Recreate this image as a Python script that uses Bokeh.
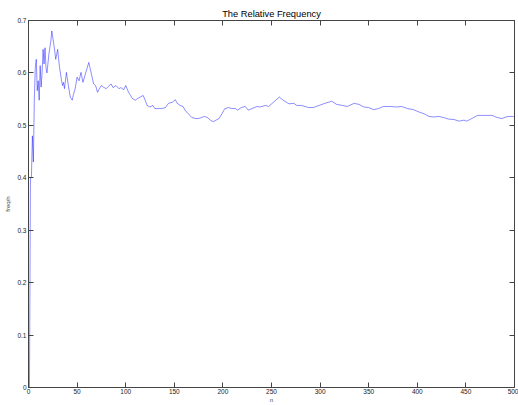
from bokeh.plotting import figure
from bokeh.models import Range1d, LinearAxis, FixedTicker
from bokeh.embed import file_html
from bokeh.resources import INLINE

# ---- data ----
n_vals = [1, 2, 3, 4, 5, 6, 7, 8, 9, 10, 11, 12, 13, 14, 15, 16, 17, 18, 19, 21,
          23, 24, 26, 27, 28, 30, 31, 32, 34, 35, 36, 37, 39, 41, 43, 45, 46, 48, 50, 52,
          54, 56, 59, 62, 64, 67, 69, 71, 73, 75, 77, 80, 82, 85, 87, 90, 93, 95, 98, 100,
          103, 105, 107, 110, 112, 115, 118, 120, 122, 125, 128, 130, 134, 137, 141, 144, 148, 151, 153, 156,
          159, 161, 165, 168, 172, 175, 178, 181, 184, 187, 190, 193, 196, 199, 202, 206, 209, 213, 215, 219,
          223, 226, 230, 235, 238, 244, 247, 252, 258, 262, 268, 273, 276, 281, 288, 293, 299, 305, 312, 317,
          323, 328, 335, 340, 345, 350, 355, 360, 365, 372, 379, 384, 390, 396, 401, 407, 412, 417, 422, 427,
          432, 438, 443, 448, 451, 456, 462, 467, 472, 477, 482, 487, 493, 498, 500]
rel_freq = [0.0, 0.40, 0.40, 0.48, 0.43, 0.55, 0.61, 0.626, 0.566, 0.585, 0.548, 0.614, 0.573, 0.601, 0.645, 0.617, 0.648, 0.61, 0.60, 0.636,
            0.661, 0.680, 0.655, 0.642, 0.626, 0.645, 0.626, 0.610, 0.585, 0.576, 0.582, 0.570, 0.601, 0.576, 0.554, 0.548, 0.557, 0.570, 0.592, 0.585,
            0.601, 0.582, 0.601, 0.620, 0.604, 0.579, 0.576, 0.563, 0.570, 0.576, 0.573, 0.570, 0.574, 0.579, 0.572, 0.576, 0.570, 0.572, 0.568, 0.576,
            0.563, 0.557, 0.551, 0.548, 0.551, 0.554, 0.557, 0.548, 0.538, 0.535, 0.538, 0.532, 0.532, 0.532, 0.534, 0.542, 0.544, 0.549, 0.542, 0.538,
            0.536, 0.529, 0.521, 0.515, 0.513, 0.513, 0.515, 0.517, 0.515, 0.510, 0.507, 0.510, 0.513, 0.522, 0.532, 0.534, 0.532, 0.532, 0.529, 0.534,
            0.536, 0.529, 0.532, 0.536, 0.535, 0.538, 0.536, 0.544, 0.554, 0.548, 0.541, 0.542, 0.538, 0.538, 0.534, 0.534, 0.538, 0.542, 0.546, 0.540,
            0.538, 0.536, 0.542, 0.540, 0.535, 0.534, 0.530, 0.532, 0.536, 0.536, 0.535, 0.536, 0.532, 0.530, 0.526, 0.522, 0.517, 0.516, 0.517, 0.515,
            0.512, 0.511, 0.508, 0.510, 0.508, 0.513, 0.519, 0.519, 0.519, 0.519, 0.515, 0.513, 0.517, 0.517, 0.516]

x_ticks = [0, 50, 100, 150, 200, 250, 300, 350, 400, 450, 500]
x_tick_labels = ["0", "50", "100", "150", "200", "250", "300", "350", "400", "450", "500"]
y_ticks = [0, 0.1, 0.2, 0.3, 0.4, 0.5, 0.6, 0.7]
y_tick_labels = ["0", "0.1", "0.2", "0.3", "0.4", "0.5", "0.6", "0.7"]

FONT = "Liberation Sans"
AXIS_COL = "#444444"

p = figure(width=518, height=405, output_backend="svg", toolbar_location=None,
           x_range=Range1d(0, 500), y_range=Range1d(0, 0.7),
           title="The Relative Frequency",
           min_border_left=28, min_border_right=4, min_border_top=20, min_border_bottom=15)
p.border_fill_color = "#ffffff"
p.background_fill_color = "#ffffff"

p.title.align = "center"
p.title.text_font = FONT
p.title.text_font_size = "9.3px"
p.title.text_font_style = "normal"
p.title.text_color = "#000000"
p.title.standoff = 3

p.line(n_vals, rel_freq, line_color="#0000ff", line_width=0.6, line_alpha=0.75)

p.xgrid.visible = False
p.ygrid.visible = False
p.outline_line_color = AXIS_COL
p.outline_line_width = 1

def style_axis(ax, labels=True):
    ax.major_tick_in = 5
    ax.major_tick_out = 0
    ax.minor_tick_line_color = None
    ax.axis_line_color = AXIS_COL
    ax.major_tick_line_color = AXIS_COL
    ax.major_label_text_font = FONT
    if labels:
        ax.major_label_text_color = "#222222"
        ax.major_label_text_font_size = "6.5px"
        ax.major_label_standoff = 2
    else:
        ax.major_label_text_color = None
        ax.major_label_text_font_size = "1px"
        ax.major_label_standoff = 0

xa = p.xaxis[0]
xa.ticker = FixedTicker(ticks=x_ticks)
xa.major_label_overrides = dict(zip(x_ticks, x_tick_labels))
style_axis(xa)
xa.major_label_standoff = 1
xa.axis_label = "n"
xa.axis_label_text_font = FONT
xa.axis_label_text_font_size = "6px"
xa.axis_label_text_font_style = "normal"
xa.axis_label_standoff = 0

ya = p.yaxis[0]
ya.ticker = FixedTicker(ticks=y_ticks)
ya.major_label_overrides = dict(zip(y_ticks, y_tick_labels))
style_axis(ya)
ya.axis_label = "freq/n"
ya.axis_label_text_font = FONT
ya.axis_label_text_font_size = "6px"
ya.axis_label_text_font_style = "normal"
ya.axis_label_standoff = 3

top = LinearAxis(ticker=FixedTicker(ticks=x_ticks))
style_axis(top, labels=False)
p.add_layout(top, "above")
right = LinearAxis(ticker=FixedTicker(ticks=y_ticks))
style_axis(right, labels=False)
p.add_layout(right, "right")

open("out.html", "w").write(file_html(p, INLINE))
